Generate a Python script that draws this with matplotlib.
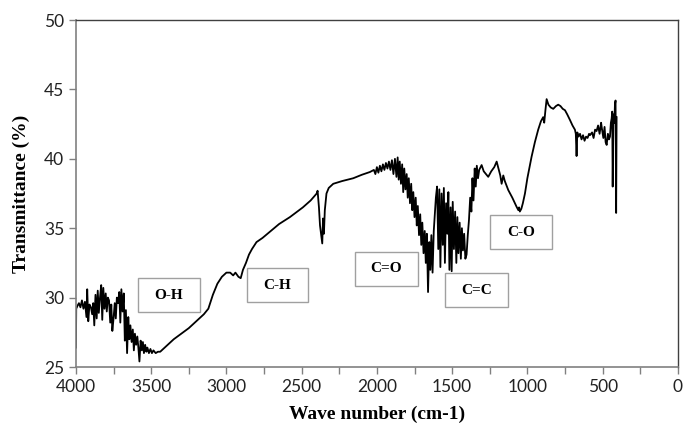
import matplotlib.pyplot as plt
from matplotlib.patches import Rectangle
from matplotlib.ticker import MultipleLocator

# FTIR spectrum: wave number (cm-1) and transmittance (%)
wave_number = [
    4000, 3998, 3990, 3980, 3970, 3960, 3950, 3940, 3930, 3925, 3918, 3910, 3900, 3892,
    3885, 3878, 3870, 3862, 3855, 3848, 3840, 3832, 3825, 3818, 3810, 3802, 3795, 3788,
    3780, 3772, 3765, 3758, 3750, 3742, 3735, 3728, 3720, 3712, 3705, 3698, 3690, 3682,
    3675, 3668, 3660, 3652, 3645, 3638, 3630, 3622, 3615, 3608, 3600, 3592, 3585, 3578,
    3570, 3562, 3555, 3548, 3540, 3532, 3525, 3515, 3505, 3495, 3485, 3470, 3455, 3440,
    3400, 3350, 3300, 3250, 3200, 3150, 3120, 3090, 3060, 3030, 3000, 2975, 2955, 2940,
    2920, 2905, 2890, 2870, 2850, 2830, 2800, 2760, 2711, 2650, 2578, 2492, 2440, 2400,
    2394, 2385, 2378, 2370, 2363, 2358, 2352, 2346, 2335, 2320, 2290, 2230, 2157, 2100,
    2046, 2020, 2010, 2000, 1990, 1980, 1970, 1960, 1950, 1940, 1930, 1920, 1910, 1900,
    1890, 1880, 1870, 1862, 1855, 1848, 1840, 1832, 1825, 1818, 1810, 1802, 1795, 1788,
    1780, 1772, 1765, 1758, 1750, 1742, 1735, 1728, 1720, 1712, 1705, 1698, 1690, 1682,
    1675, 1668, 1660, 1652, 1645, 1638, 1630, 1622, 1615, 1608, 1600, 1592, 1585, 1578,
    1570, 1562, 1555, 1548, 1540, 1532, 1525, 1518, 1510, 1503, 1496, 1488, 1480, 1472,
    1465, 1458, 1450, 1442, 1435, 1428, 1420, 1412, 1404, 1396, 1388, 1380, 1372, 1365,
    1358, 1350, 1343, 1336, 1328, 1320, 1304, 1290, 1275, 1260, 1240, 1220, 1204, 1190,
    1180, 1171, 1160, 1150, 1127, 1100, 1072, 1060, 1055, 1050, 1040, 1030, 1016, 1000,
    972, 950, 928, 910, 895, 888, 880, 872, 860, 845, 828, 810, 795, 780, 765, 750, 735,
    717, 700, 684, 678, 673, 668, 660, 650, 640, 630, 620, 610, 600, 590, 584, 570, 560,
    550, 540, 530, 520, 510, 505, 495, 487, 480, 473, 465, 458, 451, 445, 440, 436, 433,
    428, 422, 418, 414, 410, 407,
]
transmittance = [
    26.4, 29.2, 29.4, 29.6, 29.3, 29.8, 29.2, 29.7, 28.6, 30.6, 28.3, 29.5, 29.3, 28.8,
    29.6, 28.0, 30.2, 28.5, 30.5, 28.9, 30.0, 30.9, 28.4, 30.7, 29.2, 30.3, 29.0, 30.0,
    29.8, 28.2, 29.5, 27.6, 28.5, 29.6, 28.5, 30.0, 29.6, 30.4, 28.2, 30.6, 29.0, 30.3,
    26.9, 29.1, 26.0, 28.6, 27.0, 28.0, 26.8, 27.7, 26.2, 27.4, 26.6, 27.2, 26.4, 25.4,
    26.9, 26.2, 26.8, 26.0, 26.6, 26.1, 26.4, 26.0, 26.3, 26.0, 26.2, 26.0, 26.1, 26.1,
    26.5, 27.0, 27.4, 27.8, 28.3, 28.8, 29.2, 30.2, 31.0, 31.5, 31.8, 31.8, 31.6, 31.8,
    31.5, 31.4, 32.0, 32.5, 33.1, 33.5, 34.0, 34.3, 34.75, 35.3, 35.8, 36.5, 37.0, 37.5,
    37.7, 36.5, 35.2, 34.5, 33.9, 35.7, 34.6, 36.3, 37.5, 37.9, 38.2, 38.4, 38.6, 38.85,
    39.05, 39.2, 38.9, 39.4, 39.0, 39.5, 39.1, 39.6, 39.2, 39.7, 39.3, 39.8, 39.2, 39.9,
    38.9, 40.0, 38.7, 40.1, 38.5, 39.8, 38.2, 39.6, 37.6, 39.3, 37.8, 38.9, 37.2, 38.6,
    36.8, 38.2, 36.3, 37.6, 35.8, 37.2, 35.2, 36.6, 34.5, 36.0, 33.8, 35.4, 33.2, 34.8,
    32.5, 34.6, 30.4, 34.0, 32.0, 34.5, 31.8, 34.8, 36.0, 37.2, 38.0, 33.5, 37.8, 32.2,
    37.5, 33.8, 37.9, 32.5, 36.8, 34.6, 37.6, 32.0, 36.5, 31.9, 36.9, 33.5, 36.2, 32.5,
    35.8, 33.2, 35.4, 32.8, 35.0, 33.4, 34.6, 32.8, 33.1, 34.5, 35.6, 37.2, 36.2, 38.6,
    37.0, 39.3, 38.0, 39.5, 38.6, 39.2, 39.55, 39.1, 38.9, 38.7, 39.1, 39.4, 39.8, 39.2,
    38.8, 38.2, 38.8, 38.4, 37.75, 37.2, 36.55, 36.3, 36.5, 36.2, 36.4, 36.8, 37.5, 38.6,
    40.15, 41.2, 42.1, 42.7, 43.0, 42.6, 43.5, 44.3, 43.9, 43.7, 43.6, 43.8, 43.9, 43.8,
    43.6, 43.5, 43.2, 42.8, 42.4, 42.1, 41.8, 40.2, 41.9, 41.6, 41.8, 41.4, 41.7, 41.3,
    41.6, 41.5, 41.8, 41.7, 41.9, 41.5, 42.1, 42.0, 42.4, 41.8, 42.6, 42.2, 41.5, 42.3,
    41.2, 41.0, 41.8, 41.4, 41.6, 42.6, 42.9, 43.4, 38.0, 43.2, 42.6, 43.9, 44.2, 36.1,
    43.0,
]

# band labels and their boxes (left, right wave number, bottom, top transmittance)
band_labels = ['O-H', 'C-H', 'C=O', 'C=C', 'C-O']
band_boxes = [
    (3588, 3176, 28.96, 31.41),
    (2864, 2458, 29.68, 32.13),
    (2146, 1727, 30.84, 33.29),
    (1548, 1129, 29.32, 31.77),
    (1249, 837, 33.50, 35.95),
]

fig = plt.figure(figsize=(6.84, 4.33), dpi=100)
ax = fig.add_axes([0.111, 0.1524, 0.880, 0.8014])

ax.plot(wave_number, transmittance, color='black', linewidth=1.3)

# boxed labels for the bands
for label, (x0, x1, y0, y1) in zip(band_labels, band_boxes):
    ax.add_patch(Rectangle((x1, y0), x0 - x1, y1 - y0, facecolor='white',
                           edgecolor='#a0a0a0', linewidth=1.0, zorder=3))
    ax.text((x0 + x1) / 2, (y0 + y1) / 2, label, ha='center', va='center',
            family='Liberation Serif', fontweight='bold', fontsize=11, zorder=4)

ax.set_xlim(4000, 0)
ax.set_ylim(25, 50)
ax.xaxis.set_major_locator(MultipleLocator(500))
ax.xaxis.set_minor_locator(MultipleLocator(250))
ax.yaxis.set_major_locator(MultipleLocator(5))

for side in ['left', 'bottom']:
    ax.spines[side].set_color('#808080')
    ax.spines[side].set_linewidth(1.2)
for side in ['top', 'right']:
    ax.spines[side].set_color('#404040')
    ax.spines[side].set_linewidth(1.0)

ax.tick_params(which='both', direction='out', length=5, width=1, color='#808080')
for lab in ax.get_xticklabels() + ax.get_yticklabels():
    lab.set_family('Lato')
    lab.set_fontsize(12.5)
    lab.set_color('#222222')

ax.set_xlabel('Wave number (cm-1)', family='Liberation Serif', fontweight='bold',
              fontsize=14, labelpad=8)
ax.set_ylabel('Transmittance (%)', family='Liberation Serif', fontweight='bold',
              fontsize=14, labelpad=10)

fig.savefig('out.png', dpi=100)
